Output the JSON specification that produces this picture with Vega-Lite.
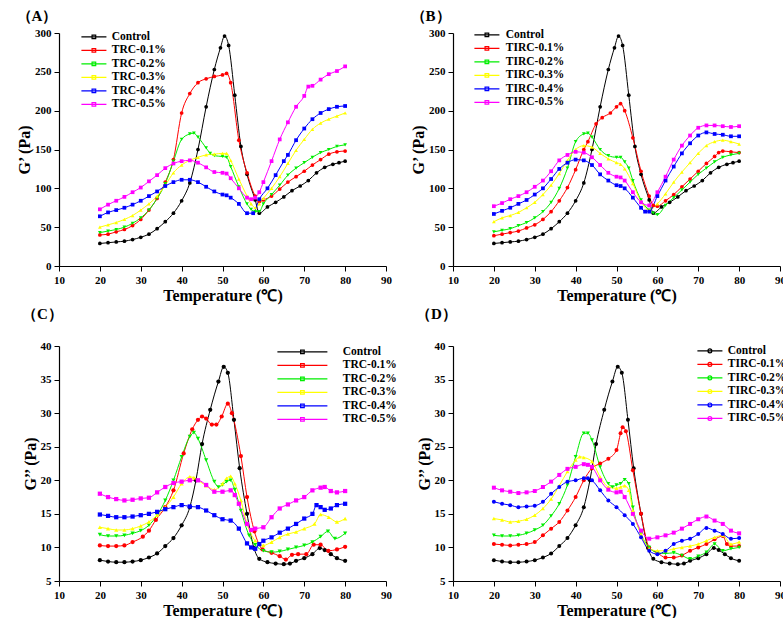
{
"$schema":"https://vega.github.io/schema/vega-lite/v6.json",
"background":"white",
"padding":{"left":16,"top":9,"right":0,"bottom":0},
"config":{
"font":"Liberation Serif",
"view":{"stroke":null},
"axis":{"labelFont":"Liberation Serif","labelFontWeight":"bold","labelFontSize":11,"labelColor":"#000","titleFont":"Liberation Serif","titleFontWeight":"bold","titleFontSize":16,"titleColor":"#000","domainColor":"#000","tickColor":"#000","tickSize":5,"labelPadding":3,"titlePadding":2,"grid":false,"domainWidth":1.2,"labelFlush":false,"labelOverlap":false},
"legend":{"labelFont":"Liberation Serif","labelFontWeight":"bold","labelFontSize":11.5,"labelColor":"#000","rowPadding":0,"symbolSize":121,"symbolStrokeWidth":1.2,"orient":"none","padding":0,"labelLimit":200,"symbolOpacity":1},
"title":{"font":"Liberation Serif","fontWeight":"bold","fontSize":15,"color":"#000","anchor":"start"}
},
"datasets":{
"gp":[
{"s":"Control","t":20,"v":29},{"s":"Control","t":22,"v":30},{"s":"Control","t":24,"v":31},{"s":"Control","t":26,"v":32},{"s":"Control","t":28,"v":34},{"s":"Control","t":30,"v":37},{"s":"Control","t":32,"v":41},{"s":"Control","t":34,"v":48},{"s":"Control","t":36,"v":57},{"s":"Control","t":38,"v":68},{"s":"Control","t":40,"v":84},{"s":"Control","t":42,"v":107},{"s":"Control","t":44,"v":150},{"s":"Control","t":46,"v":205},{"s":"Control","t":48,"v":253},{"s":"Control","t":49.5,"v":281},{"s":"Control","t":50.5,"v":296},{"s":"Control","t":51.5,"v":284},{"s":"Control","t":53,"v":220},{"s":"Control","t":54.5,"v":154},{"s":"Control","t":56,"v":118},{"s":"Control","t":58,"v":85},{"s":"Control","t":59,"v":68},{"s":"Control","t":61,"v":76},{"s":"Control","t":63,"v":82},{"s":"Control","t":65,"v":89},{"s":"Control","t":67,"v":97},{"s":"Control","t":69,"v":103},{"s":"Control","t":71,"v":110},{"s":"Control","t":73,"v":120},{"s":"Control","t":75,"v":127},{"s":"Control","t":77,"v":131},{"s":"Control","t":78.5,"v":133},{"s":"Control","t":80,"v":135},
{"s":"TRC-0.1%","t":20,"v":40},{"s":"TRC-0.1%","t":22,"v":41},{"s":"TRC-0.1%","t":24,"v":44},{"s":"TRC-0.1%","t":26,"v":47},{"s":"TRC-0.1%","t":28,"v":52},{"s":"TRC-0.1%","t":30,"v":60},{"s":"TRC-0.1%","t":32,"v":72},{"s":"TRC-0.1%","t":34,"v":87},{"s":"TRC-0.1%","t":36,"v":108},{"s":"TRC-0.1%","t":38,"v":137},{"s":"TRC-0.1%","t":40,"v":197},{"s":"TRC-0.1%","t":42,"v":222},{"s":"TRC-0.1%","t":44,"v":236},{"s":"TRC-0.1%","t":46,"v":241},{"s":"TRC-0.1%","t":48,"v":244},{"s":"TRC-0.1%","t":50,"v":246},{"s":"TRC-0.1%","t":51,"v":248},{"s":"TRC-0.1%","t":52,"v":236},{"s":"TRC-0.1%","t":54,"v":162},{"s":"TRC-0.1%","t":56,"v":120},{"s":"TRC-0.1%","t":58,"v":90},{"s":"TRC-0.1%","t":59,"v":83},{"s":"TRC-0.1%","t":60,"v":85},{"s":"TRC-0.1%","t":62,"v":90},{"s":"TRC-0.1%","t":64,"v":99},{"s":"TRC-0.1%","t":66,"v":108},{"s":"TRC-0.1%","t":68,"v":115},{"s":"TRC-0.1%","t":70,"v":122},{"s":"TRC-0.1%","t":72,"v":130},{"s":"TRC-0.1%","t":74,"v":137},{"s":"TRC-0.1%","t":76,"v":144},{"s":"TRC-0.1%","t":78,"v":147},{"s":"TRC-0.1%","t":80,"v":148},
{"s":"TRC-0.2%","t":20,"v":43},{"s":"TRC-0.2%","t":22,"v":45},{"s":"TRC-0.2%","t":24,"v":47},{"s":"TRC-0.2%","t":26,"v":50},{"s":"TRC-0.2%","t":28,"v":55},{"s":"TRC-0.2%","t":30,"v":62},{"s":"TRC-0.2%","t":32,"v":72},{"s":"TRC-0.2%","t":34,"v":87},{"s":"TRC-0.2%","t":36,"v":106},{"s":"TRC-0.2%","t":38,"v":135},{"s":"TRC-0.2%","t":40,"v":163},{"s":"TRC-0.2%","t":42,"v":170},{"s":"TRC-0.2%","t":43,"v":171},{"s":"TRC-0.2%","t":44,"v":166},{"s":"TRC-0.2%","t":46,"v":152},{"s":"TRC-0.2%","t":47,"v":145},{"s":"TRC-0.2%","t":48,"v":142},{"s":"TRC-0.2%","t":50,"v":141},{"s":"TRC-0.2%","t":51,"v":140},{"s":"TRC-0.2%","t":52,"v":128},{"s":"TRC-0.2%","t":54,"v":102},{"s":"TRC-0.2%","t":56,"v":80},{"s":"TRC-0.2%","t":57,"v":73},{"s":"TRC-0.2%","t":58,"v":70},{"s":"TRC-0.2%","t":59,"v":70},{"s":"TRC-0.2%","t":60,"v":80},{"s":"TRC-0.2%","t":62,"v":92},{"s":"TRC-0.2%","t":64,"v":104},{"s":"TRC-0.2%","t":66,"v":117},{"s":"TRC-0.2%","t":68,"v":126},{"s":"TRC-0.2%","t":70,"v":133},{"s":"TRC-0.2%","t":72,"v":140},{"s":"TRC-0.2%","t":74,"v":146},{"s":"TRC-0.2%","t":76,"v":150},{"s":"TRC-0.2%","t":78,"v":154},{"s":"TRC-0.2%","t":80,"v":156},
{"s":"TRC-0.3%","t":20,"v":50},{"s":"TRC-0.3%","t":22,"v":53},{"s":"TRC-0.3%","t":24,"v":56},{"s":"TRC-0.3%","t":26,"v":60},{"s":"TRC-0.3%","t":28,"v":65},{"s":"TRC-0.3%","t":30,"v":72},{"s":"TRC-0.3%","t":32,"v":80},{"s":"TRC-0.3%","t":34,"v":90},{"s":"TRC-0.3%","t":36,"v":104},{"s":"TRC-0.3%","t":38,"v":120},{"s":"TRC-0.3%","t":40,"v":130},{"s":"TRC-0.3%","t":42,"v":136},{"s":"TRC-0.3%","t":44,"v":140},{"s":"TRC-0.3%","t":46,"v":143},{"s":"TRC-0.3%","t":48,"v":144},{"s":"TRC-0.3%","t":50,"v":145},{"s":"TRC-0.3%","t":51,"v":145},{"s":"TRC-0.3%","t":52,"v":136},{"s":"TRC-0.3%","t":54,"v":112},{"s":"TRC-0.3%","t":56,"v":90},{"s":"TRC-0.3%","t":57,"v":80},{"s":"TRC-0.3%","t":58,"v":75},{"s":"TRC-0.3%","t":59,"v":80},{"s":"TRC-0.3%","t":60,"v":87},{"s":"TRC-0.3%","t":62,"v":100},{"s":"TRC-0.3%","t":64,"v":115},{"s":"TRC-0.3%","t":66,"v":132},{"s":"TRC-0.3%","t":68,"v":149},{"s":"TRC-0.3%","t":70,"v":163},{"s":"TRC-0.3%","t":72,"v":176},{"s":"TRC-0.3%","t":74,"v":184},{"s":"TRC-0.3%","t":76,"v":189},{"s":"TRC-0.3%","t":78,"v":193},{"s":"TRC-0.3%","t":80,"v":197},
{"s":"TRC-0.4%","t":20,"v":64},{"s":"TRC-0.4%","t":22,"v":69},{"s":"TRC-0.4%","t":24,"v":72},{"s":"TRC-0.4%","t":26,"v":75},{"s":"TRC-0.4%","t":28,"v":79},{"s":"TRC-0.4%","t":30,"v":84},{"s":"TRC-0.4%","t":32,"v":90},{"s":"TRC-0.4%","t":34,"v":96},{"s":"TRC-0.4%","t":36,"v":103},{"s":"TRC-0.4%","t":38,"v":108},{"s":"TRC-0.4%","t":40,"v":111},{"s":"TRC-0.4%","t":42,"v":111},{"s":"TRC-0.4%","t":44,"v":108},{"s":"TRC-0.4%","t":46,"v":102},{"s":"TRC-0.4%","t":48,"v":96},{"s":"TRC-0.4%","t":50,"v":92},{"s":"TRC-0.4%","t":51,"v":91},{"s":"TRC-0.4%","t":52,"v":88},{"s":"TRC-0.4%","t":54,"v":80},{"s":"TRC-0.4%","t":56,"v":68},{"s":"TRC-0.4%","t":57.5,"v":68},{"s":"TRC-0.4%","t":59,"v":86},{"s":"TRC-0.4%","t":61,"v":100},{"s":"TRC-0.4%","t":63,"v":117},{"s":"TRC-0.4%","t":65,"v":135},{"s":"TRC-0.4%","t":66,"v":143},{"s":"TRC-0.4%","t":68,"v":162},{"s":"TRC-0.4%","t":70,"v":177},{"s":"TRC-0.4%","t":72,"v":189},{"s":"TRC-0.4%","t":74,"v":197},{"s":"TRC-0.4%","t":76,"v":202},{"s":"TRC-0.4%","t":78,"v":205},{"s":"TRC-0.4%","t":80,"v":206},
{"s":"TRC-0.5%","t":20,"v":73},{"s":"TRC-0.5%","t":22,"v":79},{"s":"TRC-0.5%","t":24,"v":84},{"s":"TRC-0.5%","t":26,"v":89},{"s":"TRC-0.5%","t":28,"v":95},{"s":"TRC-0.5%","t":30,"v":101},{"s":"TRC-0.5%","t":32,"v":109},{"s":"TRC-0.5%","t":34,"v":117},{"s":"TRC-0.5%","t":36,"v":126},{"s":"TRC-0.5%","t":38,"v":132},{"s":"TRC-0.5%","t":40,"v":135},{"s":"TRC-0.5%","t":42,"v":136},{"s":"TRC-0.5%","t":44,"v":133},{"s":"TRC-0.5%","t":46,"v":127},{"s":"TRC-0.5%","t":48,"v":121},{"s":"TRC-0.5%","t":50,"v":120},{"s":"TRC-0.5%","t":51,"v":119},{"s":"TRC-0.5%","t":52,"v":113},{"s":"TRC-0.5%","t":54,"v":100},{"s":"TRC-0.5%","t":56,"v":88},{"s":"TRC-0.5%","t":57,"v":86},{"s":"TRC-0.5%","t":58,"v":88},{"s":"TRC-0.5%","t":59,"v":95},{"s":"TRC-0.5%","t":60,"v":108},{"s":"TRC-0.5%","t":62,"v":135},{"s":"TRC-0.5%","t":64,"v":163},{"s":"TRC-0.5%","t":66,"v":185},{"s":"TRC-0.5%","t":68,"v":205},{"s":"TRC-0.5%","t":70,"v":219},{"s":"TRC-0.5%","t":71,"v":231},{"s":"TRC-0.5%","t":72,"v":232},{"s":"TRC-0.5%","t":74,"v":240},{"s":"TRC-0.5%","t":76,"v":247},{"s":"TRC-0.5%","t":78,"v":251},{"s":"TRC-0.5%","t":80,"v":257},
{"s":"TIRC-0.1%","t":20,"v":39},{"s":"TIRC-0.1%","t":22,"v":41},{"s":"TIRC-0.1%","t":24,"v":43},{"s":"TIRC-0.1%","t":26,"v":45},{"s":"TIRC-0.1%","t":28,"v":49},{"s":"TIRC-0.1%","t":30,"v":53},{"s":"TIRC-0.1%","t":32,"v":60},{"s":"TIRC-0.1%","t":34,"v":70},{"s":"TIRC-0.1%","t":36,"v":84},{"s":"TIRC-0.1%","t":38,"v":101},{"s":"TIRC-0.1%","t":40,"v":124},{"s":"TIRC-0.1%","t":42,"v":150},{"s":"TIRC-0.1%","t":43,"v":160},{"s":"TIRC-0.1%","t":45,"v":183},{"s":"TIRC-0.1%","t":46.5,"v":191},{"s":"TIRC-0.1%","t":48.5,"v":197},{"s":"TIRC-0.1%","t":50,"v":205},{"s":"TIRC-0.1%","t":51,"v":209},{"s":"TIRC-0.1%","t":52,"v":200},{"s":"TIRC-0.1%","t":54,"v":165},{"s":"TIRC-0.1%","t":56,"v":122},{"s":"TIRC-0.1%","t":58,"v":90},{"s":"TIRC-0.1%","t":59,"v":78},{"s":"TIRC-0.1%","t":60,"v":77},{"s":"TIRC-0.1%","t":62,"v":84},{"s":"TIRC-0.1%","t":64,"v":92},{"s":"TIRC-0.1%","t":66,"v":102},{"s":"TIRC-0.1%","t":68,"v":112},{"s":"TIRC-0.1%","t":70,"v":122},{"s":"TIRC-0.1%","t":72,"v":132},{"s":"TIRC-0.1%","t":74,"v":141},{"s":"TIRC-0.1%","t":75,"v":146},{"s":"TIRC-0.1%","t":76,"v":148},{"s":"TIRC-0.1%","t":78,"v":147},{"s":"TIRC-0.1%","t":80,"v":146},
{"s":"TIRC-0.2%","t":20,"v":44},{"s":"TIRC-0.2%","t":22,"v":46},{"s":"TIRC-0.2%","t":24,"v":48},{"s":"TIRC-0.2%","t":26,"v":52},{"s":"TIRC-0.2%","t":28,"v":56},{"s":"TIRC-0.2%","t":30,"v":62},{"s":"TIRC-0.2%","t":32,"v":70},{"s":"TIRC-0.2%","t":34,"v":82},{"s":"TIRC-0.2%","t":36,"v":100},{"s":"TIRC-0.2%","t":38,"v":126},{"s":"TIRC-0.2%","t":40,"v":160},{"s":"TIRC-0.2%","t":42,"v":170},{"s":"TIRC-0.2%","t":43,"v":171},{"s":"TIRC-0.2%","t":44,"v":166},{"s":"TIRC-0.2%","t":46,"v":150},{"s":"TIRC-0.2%","t":48,"v":142},{"s":"TIRC-0.2%","t":50,"v":140},{"s":"TIRC-0.2%","t":51,"v":140},{"s":"TIRC-0.2%","t":52,"v":134},{"s":"TIRC-0.2%","t":53,"v":126},{"s":"TIRC-0.2%","t":54,"v":110},{"s":"TIRC-0.2%","t":56,"v":85},{"s":"TIRC-0.2%","t":58,"v":72},{"s":"TIRC-0.2%","t":59,"v":68},{"s":"TIRC-0.2%","t":60,"v":66},{"s":"TIRC-0.2%","t":62,"v":78},{"s":"TIRC-0.2%","t":64,"v":88},{"s":"TIRC-0.2%","t":66,"v":98},{"s":"TIRC-0.2%","t":68,"v":108},{"s":"TIRC-0.2%","t":70,"v":118},{"s":"TIRC-0.2%","t":72,"v":126},{"s":"TIRC-0.2%","t":74,"v":134},{"s":"TIRC-0.2%","t":76,"v":140},{"s":"TIRC-0.2%","t":78,"v":143},{"s":"TIRC-0.2%","t":80,"v":145},
{"s":"TIRC-0.3%","t":20,"v":57},{"s":"TIRC-0.3%","t":22,"v":62},{"s":"TIRC-0.3%","t":24,"v":65},{"s":"TIRC-0.3%","t":26,"v":69},{"s":"TIRC-0.3%","t":28,"v":75},{"s":"TIRC-0.3%","t":30,"v":82},{"s":"TIRC-0.3%","t":32,"v":92},{"s":"TIRC-0.3%","t":34,"v":104},{"s":"TIRC-0.3%","t":36,"v":119},{"s":"TIRC-0.3%","t":38,"v":136},{"s":"TIRC-0.3%","t":40,"v":150},{"s":"TIRC-0.3%","t":42,"v":155},{"s":"TIRC-0.3%","t":44,"v":153},{"s":"TIRC-0.3%","t":46,"v":145},{"s":"TIRC-0.3%","t":48,"v":138},{"s":"TIRC-0.3%","t":50,"v":133},{"s":"TIRC-0.3%","t":51,"v":131},{"s":"TIRC-0.3%","t":52,"v":125},{"s":"TIRC-0.3%","t":54,"v":106},{"s":"TIRC-0.3%","t":56,"v":83},{"s":"TIRC-0.3%","t":58,"v":72},{"s":"TIRC-0.3%","t":60,"v":80},{"s":"TIRC-0.3%","t":62,"v":93},{"s":"TIRC-0.3%","t":64,"v":108},{"s":"TIRC-0.3%","t":66,"v":121},{"s":"TIRC-0.3%","t":68,"v":133},{"s":"TIRC-0.3%","t":70,"v":145},{"s":"TIRC-0.3%","t":72,"v":155},{"s":"TIRC-0.3%","t":74,"v":160},{"s":"TIRC-0.3%","t":76,"v":162},{"s":"TIRC-0.3%","t":78,"v":160},{"s":"TIRC-0.3%","t":80,"v":157},
{"s":"TIRC-0.4%","t":20,"v":67},{"s":"TIRC-0.4%","t":22,"v":71},{"s":"TIRC-0.4%","t":24,"v":75},{"s":"TIRC-0.4%","t":26,"v":80},{"s":"TIRC-0.4%","t":28,"v":85},{"s":"TIRC-0.4%","t":30,"v":92},{"s":"TIRC-0.4%","t":32,"v":100},{"s":"TIRC-0.4%","t":34,"v":112},{"s":"TIRC-0.4%","t":36,"v":125},{"s":"TIRC-0.4%","t":38,"v":133},{"s":"TIRC-0.4%","t":40,"v":137},{"s":"TIRC-0.4%","t":42,"v":136},{"s":"TIRC-0.4%","t":44,"v":130},{"s":"TIRC-0.4%","t":46,"v":118},{"s":"TIRC-0.4%","t":48,"v":110},{"s":"TIRC-0.4%","t":50,"v":104},{"s":"TIRC-0.4%","t":51,"v":103},{"s":"TIRC-0.4%","t":52,"v":100},{"s":"TIRC-0.4%","t":54,"v":88},{"s":"TIRC-0.4%","t":56,"v":75},{"s":"TIRC-0.4%","t":57,"v":70},{"s":"TIRC-0.4%","t":58,"v":70},{"s":"TIRC-0.4%","t":60,"v":90},{"s":"TIRC-0.4%","t":62,"v":110},{"s":"TIRC-0.4%","t":64,"v":128},{"s":"TIRC-0.4%","t":66,"v":145},{"s":"TIRC-0.4%","t":68,"v":158},{"s":"TIRC-0.4%","t":70,"v":168},{"s":"TIRC-0.4%","t":72,"v":172},{"s":"TIRC-0.4%","t":74,"v":170},{"s":"TIRC-0.4%","t":76,"v":169},{"s":"TIRC-0.4%","t":78,"v":167},{"s":"TIRC-0.4%","t":80,"v":167},
{"s":"TIRC-0.5%","t":20,"v":77},{"s":"TIRC-0.5%","t":22,"v":81},{"s":"TIRC-0.5%","t":24,"v":86},{"s":"TIRC-0.5%","t":26,"v":90},{"s":"TIRC-0.5%","t":28,"v":95},{"s":"TIRC-0.5%","t":30,"v":102},{"s":"TIRC-0.5%","t":32,"v":110},{"s":"TIRC-0.5%","t":34,"v":122},{"s":"TIRC-0.5%","t":36,"v":136},{"s":"TIRC-0.5%","t":38,"v":143},{"s":"TIRC-0.5%","t":40,"v":147},{"s":"TIRC-0.5%","t":42,"v":146},{"s":"TIRC-0.5%","t":44,"v":140},{"s":"TIRC-0.5%","t":46,"v":130},{"s":"TIRC-0.5%","t":48,"v":120},{"s":"TIRC-0.5%","t":50,"v":115},{"s":"TIRC-0.5%","t":51,"v":114},{"s":"TIRC-0.5%","t":52,"v":110},{"s":"TIRC-0.5%","t":54,"v":95},{"s":"TIRC-0.5%","t":56,"v":82},{"s":"TIRC-0.5%","t":58,"v":78},{"s":"TIRC-0.5%","t":60,"v":95},{"s":"TIRC-0.5%","t":62,"v":115},{"s":"TIRC-0.5%","t":64,"v":137},{"s":"TIRC-0.5%","t":66,"v":155},{"s":"TIRC-0.5%","t":68,"v":168},{"s":"TIRC-0.5%","t":70,"v":178},{"s":"TIRC-0.5%","t":72,"v":181},{"s":"TIRC-0.5%","t":74,"v":181},{"s":"TIRC-0.5%","t":76,"v":180},{"s":"TIRC-0.5%","t":78,"v":179},{"s":"TIRC-0.5%","t":80,"v":180}
],
"gpp":[
{"s":"Control","t":20,"v":8.1},{"s":"Control","t":22,"v":7.9},{"s":"Control","t":24,"v":7.8},{"s":"Control","t":26,"v":7.8},{"s":"Control","t":28,"v":7.9},{"s":"Control","t":30,"v":8.1},{"s":"Control","t":32,"v":8.5},{"s":"Control","t":34,"v":9.1},{"s":"Control","t":36,"v":10.2},{"s":"Control","t":38,"v":11.4},{"s":"Control","t":40,"v":13.3},{"s":"Control","t":42,"v":16},{"s":"Control","t":43.5,"v":20},{"s":"Control","t":45,"v":25.4},{"s":"Control","t":47,"v":30.5},{"s":"Control","t":49,"v":34.7},{"s":"Control","t":50.3,"v":36.9},{"s":"Control","t":51.3,"v":36},{"s":"Control","t":52.8,"v":29},{"s":"Control","t":54.2,"v":21.8},{"s":"Control","t":56,"v":15},{"s":"Control","t":57.7,"v":9.9},{"s":"Control","t":59,"v":8.3},{"s":"Control","t":61,"v":7.8},{"s":"Control","t":63,"v":7.6},{"s":"Control","t":65,"v":7.5},{"s":"Control","t":66.5,"v":7.6},{"s":"Control","t":68,"v":8},{"s":"Control","t":70,"v":8.4},{"s":"Control","t":72,"v":9},{"s":"Control","t":73.8,"v":9.9},{"s":"Control","t":75,"v":9.6},{"s":"Control","t":76.5,"v":9},{"s":"Control","t":78,"v":8.4},{"s":"Control","t":80,"v":8},
{"s":"TRC-0.1%","t":20,"v":10.3},{"s":"TRC-0.1%","t":22,"v":10.2},{"s":"TRC-0.1%","t":24,"v":10.2},{"s":"TRC-0.1%","t":26,"v":10.3},{"s":"TRC-0.1%","t":28,"v":10.8},{"s":"TRC-0.1%","t":30.5,"v":11.6},{"s":"TRC-0.1%","t":32,"v":12.5},{"s":"TRC-0.1%","t":33.7,"v":14.1},{"s":"TRC-0.1%","t":36,"v":16},{"s":"TRC-0.1%","t":38,"v":18.5},{"s":"TRC-0.1%","t":40.5,"v":24},{"s":"TRC-0.1%","t":42.6,"v":27.6},{"s":"TRC-0.1%","t":44,"v":29},{"s":"TRC-0.1%","t":45,"v":29.5},{"s":"TRC-0.1%","t":46,"v":29.2},{"s":"TRC-0.1%","t":47.4,"v":28.3},{"s":"TRC-0.1%","t":48.5,"v":28.3},{"s":"TRC-0.1%","t":49.8,"v":29.5},{"s":"TRC-0.1%","t":51.3,"v":31.4},{"s":"TRC-0.1%","t":52.3,"v":30},{"s":"TRC-0.1%","t":54.5,"v":23.6},{"s":"TRC-0.1%","t":56,"v":17.5},{"s":"TRC-0.1%","t":57.8,"v":12.4},{"s":"TRC-0.1%","t":59.8,"v":9.7},{"s":"TRC-0.1%","t":62,"v":9.2},{"s":"TRC-0.1%","t":64,"v":8.7},{"s":"TRC-0.1%","t":65.5,"v":8.2},{"s":"TRC-0.1%","t":67,"v":8.9},{"s":"TRC-0.1%","t":68.5,"v":9},{"s":"TRC-0.1%","t":70.5,"v":9},{"s":"TRC-0.1%","t":72.3,"v":10.4},{"s":"TRC-0.1%","t":74,"v":10.4},{"s":"TRC-0.1%","t":75.9,"v":9.5},{"s":"TRC-0.1%","t":78,"v":9.7},{"s":"TRC-0.1%","t":80,"v":10.1},
{"s":"TRC-0.2%","t":20,"v":11.9},{"s":"TRC-0.2%","t":22,"v":11.7},{"s":"TRC-0.2%","t":24,"v":11.7},{"s":"TRC-0.2%","t":26,"v":11.8},{"s":"TRC-0.2%","t":28,"v":12.1},{"s":"TRC-0.2%","t":30,"v":12.5},{"s":"TRC-0.2%","t":32,"v":13.3},{"s":"TRC-0.2%","t":34,"v":14.8},{"s":"TRC-0.2%","t":36,"v":17},{"s":"TRC-0.2%","t":38,"v":20},{"s":"TRC-0.2%","t":40,"v":23.5},{"s":"TRC-0.2%","t":42,"v":26.5},{"s":"TRC-0.2%","t":43,"v":27.1},{"s":"TRC-0.2%","t":44,"v":26.2},{"s":"TRC-0.2%","t":46,"v":23},{"s":"TRC-0.2%","t":48,"v":19.8},{"s":"TRC-0.2%","t":49,"v":19},{"s":"TRC-0.2%","t":50,"v":19.3},{"s":"TRC-0.2%","t":51,"v":19.8},{"s":"TRC-0.2%","t":52,"v":20},{"s":"TRC-0.2%","t":53,"v":18.6},{"s":"TRC-0.2%","t":54.5,"v":15.5},{"s":"TRC-0.2%","t":56.5,"v":11.8},{"s":"TRC-0.2%","t":58,"v":10.4},{"s":"TRC-0.2%","t":60,"v":9.5},{"s":"TRC-0.2%","t":62,"v":9.3},{"s":"TRC-0.2%","t":64,"v":9.4},{"s":"TRC-0.2%","t":66,"v":9.7},{"s":"TRC-0.2%","t":68,"v":10},{"s":"TRC-0.2%","t":70,"v":10.3},{"s":"TRC-0.2%","t":72,"v":10.8},{"s":"TRC-0.2%","t":74,"v":11.6},{"s":"TRC-0.2%","t":75.8,"v":12.4},{"s":"TRC-0.2%","t":77.5,"v":11.3},{"s":"TRC-0.2%","t":80,"v":12.1},
{"s":"TRC-0.3%","t":20,"v":13},{"s":"TRC-0.3%","t":22,"v":12.8},{"s":"TRC-0.3%","t":24,"v":12.6},{"s":"TRC-0.3%","t":26,"v":12.6},{"s":"TRC-0.3%","t":28,"v":12.8},{"s":"TRC-0.3%","t":30,"v":13.2},{"s":"TRC-0.3%","t":32,"v":13.8},{"s":"TRC-0.3%","t":34,"v":14.8},{"s":"TRC-0.3%","t":36,"v":16},{"s":"TRC-0.3%","t":38,"v":17.5},{"s":"TRC-0.3%","t":40,"v":19.5},{"s":"TRC-0.3%","t":42,"v":20.5},{"s":"TRC-0.3%","t":43,"v":20.4},{"s":"TRC-0.3%","t":44,"v":20},{"s":"TRC-0.3%","t":46,"v":19.2},{"s":"TRC-0.3%","t":48,"v":18.6},{"s":"TRC-0.3%","t":50,"v":19.5},{"s":"TRC-0.3%","t":51,"v":20.3},{"s":"TRC-0.3%","t":52,"v":20.6},{"s":"TRC-0.3%","t":53,"v":19.5},{"s":"TRC-0.3%","t":54.5,"v":17},{"s":"TRC-0.3%","t":56,"v":13.5},{"s":"TRC-0.3%","t":58,"v":11},{"s":"TRC-0.3%","t":60,"v":10.3},{"s":"TRC-0.3%","t":62,"v":10.8},{"s":"TRC-0.3%","t":64,"v":11.5},{"s":"TRC-0.3%","t":66,"v":12},{"s":"TRC-0.3%","t":68,"v":12.3},{"s":"TRC-0.3%","t":70,"v":12.8},{"s":"TRC-0.3%","t":72.5,"v":13.5},{"s":"TRC-0.3%","t":74,"v":14.9},{"s":"TRC-0.3%","t":76,"v":14.5},{"s":"TRC-0.3%","t":78,"v":13.8},{"s":"TRC-0.3%","t":80,"v":14.3},
{"s":"TRC-0.4%","t":20,"v":14.9},{"s":"TRC-0.4%","t":22,"v":14.7},{"s":"TRC-0.4%","t":24,"v":14.5},{"s":"TRC-0.4%","t":26,"v":14.5},{"s":"TRC-0.4%","t":28,"v":14.6},{"s":"TRC-0.4%","t":30,"v":14.8},{"s":"TRC-0.4%","t":32,"v":15},{"s":"TRC-0.4%","t":34,"v":15.3},{"s":"TRC-0.4%","t":36,"v":15.7},{"s":"TRC-0.4%","t":38,"v":16},{"s":"TRC-0.4%","t":40,"v":16.3},{"s":"TRC-0.4%","t":42,"v":16.1},{"s":"TRC-0.4%","t":44,"v":16},{"s":"TRC-0.4%","t":46,"v":15.5},{"s":"TRC-0.4%","t":48,"v":14.8},{"s":"TRC-0.4%","t":50,"v":14.2},{"s":"TRC-0.4%","t":52,"v":14},{"s":"TRC-0.4%","t":54,"v":12.8},{"s":"TRC-0.4%","t":56,"v":10.6},{"s":"TRC-0.4%","t":57,"v":10},{"s":"TRC-0.4%","t":58,"v":9.8},{"s":"TRC-0.4%","t":59,"v":10.5},{"s":"TRC-0.4%","t":60,"v":11},{"s":"TRC-0.4%","t":62,"v":11.5},{"s":"TRC-0.4%","t":64,"v":12.2},{"s":"TRC-0.4%","t":66,"v":12.8},{"s":"TRC-0.4%","t":68,"v":13.5},{"s":"TRC-0.4%","t":70,"v":14.3},{"s":"TRC-0.4%","t":72,"v":15},{"s":"TRC-0.4%","t":73,"v":16.3},{"s":"TRC-0.4%","t":74,"v":16},{"s":"TRC-0.4%","t":75,"v":15.6},{"s":"TRC-0.4%","t":76.5,"v":15.8},{"s":"TRC-0.4%","t":78,"v":16.3},{"s":"TRC-0.4%","t":80,"v":16.5},
{"s":"TRC-0.5%","t":20,"v":18},{"s":"TRC-0.5%","t":22,"v":17.5},{"s":"TRC-0.5%","t":24,"v":17.2},{"s":"TRC-0.5%","t":26,"v":17},{"s":"TRC-0.5%","t":28,"v":17.1},{"s":"TRC-0.5%","t":30,"v":17.3},{"s":"TRC-0.5%","t":32,"v":17.4},{"s":"TRC-0.5%","t":34,"v":18.2},{"s":"TRC-0.5%","t":36,"v":19},{"s":"TRC-0.5%","t":38,"v":19.6},{"s":"TRC-0.5%","t":40,"v":19.8},{"s":"TRC-0.5%","t":42,"v":20},{"s":"TRC-0.5%","t":44,"v":20},{"s":"TRC-0.5%","t":46,"v":19.3},{"s":"TRC-0.5%","t":48,"v":18.3},{"s":"TRC-0.5%","t":50,"v":18.3},{"s":"TRC-0.5%","t":52,"v":18.5},{"s":"TRC-0.5%","t":53,"v":17.8},{"s":"TRC-0.5%","t":54,"v":16.5},{"s":"TRC-0.5%","t":56,"v":13.5},{"s":"TRC-0.5%","t":57,"v":12.6},{"s":"TRC-0.5%","t":58,"v":12.8},{"s":"TRC-0.5%","t":60,"v":13},{"s":"TRC-0.5%","t":62,"v":14.5},{"s":"TRC-0.5%","t":64,"v":15.8},{"s":"TRC-0.5%","t":66,"v":16.4},{"s":"TRC-0.5%","t":68,"v":17},{"s":"TRC-0.5%","t":70,"v":17.5},{"s":"TRC-0.5%","t":72,"v":18.5},{"s":"TRC-0.5%","t":74,"v":18.9},{"s":"TRC-0.5%","t":75,"v":19},{"s":"TRC-0.5%","t":76.5,"v":18.4},{"s":"TRC-0.5%","t":78,"v":18.2},{"s":"TRC-0.5%","t":80,"v":18.4},
{"s":"TIRC-0.1%","t":20,"v":10.5},{"s":"TIRC-0.1%","t":22,"v":10.4},{"s":"TIRC-0.1%","t":24,"v":10.3},{"s":"TIRC-0.1%","t":26,"v":10.4},{"s":"TIRC-0.1%","t":28,"v":10.5},{"s":"TIRC-0.1%","t":30,"v":10.8},{"s":"TIRC-0.1%","t":32,"v":11.8},{"s":"TIRC-0.1%","t":34,"v":12.8},{"s":"TIRC-0.1%","t":36,"v":13.8},{"s":"TIRC-0.1%","t":38,"v":15.5},{"s":"TIRC-0.1%","t":40,"v":17.5},{"s":"TIRC-0.1%","t":42,"v":20},{"s":"TIRC-0.1%","t":44,"v":21.8},{"s":"TIRC-0.1%","t":46,"v":22.5},{"s":"TIRC-0.1%","t":48,"v":23.2},{"s":"TIRC-0.1%","t":50,"v":24.5},{"s":"TIRC-0.1%","t":51,"v":27},{"s":"TIRC-0.1%","t":51.5,"v":27.9},{"s":"TIRC-0.1%","t":52.3,"v":27.3},{"s":"TIRC-0.1%","t":54,"v":21.5},{"s":"TIRC-0.1%","t":56,"v":15},{"s":"TIRC-0.1%","t":58,"v":10},{"s":"TIRC-0.1%","t":60,"v":9.2},{"s":"TIRC-0.1%","t":62,"v":8.5},{"s":"TIRC-0.1%","t":64,"v":8.5},{"s":"TIRC-0.1%","t":66,"v":8.8},{"s":"TIRC-0.1%","t":68,"v":9.5},{"s":"TIRC-0.1%","t":70,"v":10},{"s":"TIRC-0.1%","t":72,"v":10.5},{"s":"TIRC-0.1%","t":74,"v":11.2},{"s":"TIRC-0.1%","t":76,"v":11.7},{"s":"TIRC-0.1%","t":77,"v":10.5},{"s":"TIRC-0.1%","t":78,"v":10.2},{"s":"TIRC-0.1%","t":80,"v":10.2},
{"s":"TIRC-0.2%","t":20,"v":11.8},{"s":"TIRC-0.2%","t":22,"v":11.7},{"s":"TIRC-0.2%","t":24,"v":11.7},{"s":"TIRC-0.2%","t":26,"v":11.8},{"s":"TIRC-0.2%","t":28,"v":12.1},{"s":"TIRC-0.2%","t":30,"v":12.6},{"s":"TIRC-0.2%","t":32,"v":13.3},{"s":"TIRC-0.2%","t":34,"v":14.7},{"s":"TIRC-0.2%","t":36,"v":16.5},{"s":"TIRC-0.2%","t":38,"v":19.3},{"s":"TIRC-0.2%","t":40,"v":23.5},{"s":"TIRC-0.2%","t":42,"v":27},{"s":"TIRC-0.2%","t":43,"v":27},{"s":"TIRC-0.2%","t":44,"v":26},{"s":"TIRC-0.2%","t":46,"v":22},{"s":"TIRC-0.2%","t":48,"v":19.5},{"s":"TIRC-0.2%","t":49,"v":19},{"s":"TIRC-0.2%","t":50,"v":19.3},{"s":"TIRC-0.2%","t":51,"v":19.5},{"s":"TIRC-0.2%","t":52,"v":20.1},{"s":"TIRC-0.2%","t":53,"v":19.5},{"s":"TIRC-0.2%","t":54,"v":16},{"s":"TIRC-0.2%","t":56,"v":12},{"s":"TIRC-0.2%","t":58,"v":10},{"s":"TIRC-0.2%","t":60,"v":9.2},{"s":"TIRC-0.2%","t":62,"v":9.1},{"s":"TIRC-0.2%","t":64,"v":9.2},{"s":"TIRC-0.2%","t":66,"v":8.8},{"s":"TIRC-0.2%","t":68,"v":8.3},{"s":"TIRC-0.2%","t":70,"v":8.7},{"s":"TIRC-0.2%","t":72,"v":9.3},{"s":"TIRC-0.2%","t":74,"v":10.5},{"s":"TIRC-0.2%","t":76,"v":9.5},{"s":"TIRC-0.2%","t":78,"v":9.8},{"s":"TIRC-0.2%","t":80,"v":10},
{"s":"TIRC-0.3%","t":20,"v":14.3},{"s":"TIRC-0.3%","t":22,"v":14.1},{"s":"TIRC-0.3%","t":24,"v":13.8},{"s":"TIRC-0.3%","t":26,"v":13.9},{"s":"TIRC-0.3%","t":28,"v":14.2},{"s":"TIRC-0.3%","t":30,"v":14.8},{"s":"TIRC-0.3%","t":32,"v":15.8},{"s":"TIRC-0.3%","t":34,"v":17.2},{"s":"TIRC-0.3%","t":36,"v":19.2},{"s":"TIRC-0.3%","t":38,"v":21.3},{"s":"TIRC-0.3%","t":40,"v":23},{"s":"TIRC-0.3%","t":41,"v":23.5},{"s":"TIRC-0.3%","t":42,"v":23.4},{"s":"TIRC-0.3%","t":44,"v":22.8},{"s":"TIRC-0.3%","t":46,"v":20.5},{"s":"TIRC-0.3%","t":48,"v":19},{"s":"TIRC-0.3%","t":50,"v":18.8},{"s":"TIRC-0.3%","t":51,"v":19},{"s":"TIRC-0.3%","t":52,"v":19.2},{"s":"TIRC-0.3%","t":53,"v":18.5},{"s":"TIRC-0.3%","t":54,"v":15.5},{"s":"TIRC-0.3%","t":56,"v":12},{"s":"TIRC-0.3%","t":58,"v":9.8},{"s":"TIRC-0.3%","t":60,"v":9.5},{"s":"TIRC-0.3%","t":62,"v":9.5},{"s":"TIRC-0.3%","t":64,"v":9.8},{"s":"TIRC-0.3%","t":66,"v":10},{"s":"TIRC-0.3%","t":68,"v":10.2},{"s":"TIRC-0.3%","t":70,"v":10.5},{"s":"TIRC-0.3%","t":72,"v":11},{"s":"TIRC-0.3%","t":74,"v":11.5},{"s":"TIRC-0.3%","t":76,"v":11.8},{"s":"TIRC-0.3%","t":78,"v":10.5},{"s":"TIRC-0.3%","t":80,"v":10.8},
{"s":"TIRC-0.4%","t":20,"v":16.8},{"s":"TIRC-0.4%","t":22,"v":16.5},{"s":"TIRC-0.4%","t":24,"v":16.3},{"s":"TIRC-0.4%","t":26,"v":16},{"s":"TIRC-0.4%","t":28,"v":16.1},{"s":"TIRC-0.4%","t":30,"v":16.2},{"s":"TIRC-0.4%","t":32,"v":16.8},{"s":"TIRC-0.4%","t":34,"v":18},{"s":"TIRC-0.4%","t":36,"v":19},{"s":"TIRC-0.4%","t":38,"v":19.8},{"s":"TIRC-0.4%","t":40,"v":20},{"s":"TIRC-0.4%","t":42,"v":20.3},{"s":"TIRC-0.4%","t":43,"v":20.3},{"s":"TIRC-0.4%","t":44,"v":20},{"s":"TIRC-0.4%","t":46,"v":18.5},{"s":"TIRC-0.4%","t":48,"v":17},{"s":"TIRC-0.4%","t":50,"v":16},{"s":"TIRC-0.4%","t":52,"v":14.8},{"s":"TIRC-0.4%","t":54,"v":13.5},{"s":"TIRC-0.4%","t":56,"v":11.5},{"s":"TIRC-0.4%","t":58,"v":9.5},{"s":"TIRC-0.4%","t":60,"v":9},{"s":"TIRC-0.4%","t":62,"v":9.5},{"s":"TIRC-0.4%","t":64,"v":10.5},{"s":"TIRC-0.4%","t":66,"v":11},{"s":"TIRC-0.4%","t":68,"v":11.3},{"s":"TIRC-0.4%","t":70,"v":12},{"s":"TIRC-0.4%","t":72,"v":12.9},{"s":"TIRC-0.4%","t":74,"v":12.5},{"s":"TIRC-0.4%","t":76,"v":12},{"s":"TIRC-0.4%","t":78,"v":11.3},{"s":"TIRC-0.4%","t":80,"v":11.4},
{"s":"TIRC-0.5%","t":20,"v":18.9},{"s":"TIRC-0.5%","t":22,"v":18.5},{"s":"TIRC-0.5%","t":24,"v":18.3},{"s":"TIRC-0.5%","t":26,"v":18.1},{"s":"TIRC-0.5%","t":28,"v":18.2},{"s":"TIRC-0.5%","t":30,"v":18.4},{"s":"TIRC-0.5%","t":32,"v":19},{"s":"TIRC-0.5%","t":34,"v":19.8},{"s":"TIRC-0.5%","t":36,"v":20.8},{"s":"TIRC-0.5%","t":38,"v":21.7},{"s":"TIRC-0.5%","t":40,"v":22},{"s":"TIRC-0.5%","t":42,"v":22.4},{"s":"TIRC-0.5%","t":43,"v":22.3},{"s":"TIRC-0.5%","t":44,"v":22},{"s":"TIRC-0.5%","t":46,"v":20},{"s":"TIRC-0.5%","t":48,"v":18.6},{"s":"TIRC-0.5%","t":50,"v":18.2},{"s":"TIRC-0.5%","t":51,"v":18.3},{"s":"TIRC-0.5%","t":52,"v":17.5},{"s":"TIRC-0.5%","t":54,"v":15},{"s":"TIRC-0.5%","t":56,"v":12.5},{"s":"TIRC-0.5%","t":58,"v":11.3},{"s":"TIRC-0.5%","t":60,"v":11.5},{"s":"TIRC-0.5%","t":62,"v":11.8},{"s":"TIRC-0.5%","t":64,"v":12.2},{"s":"TIRC-0.5%","t":66,"v":12.8},{"s":"TIRC-0.5%","t":68,"v":13.5},{"s":"TIRC-0.5%","t":70,"v":14.2},{"s":"TIRC-0.5%","t":72,"v":14.6},{"s":"TIRC-0.5%","t":74,"v":14},{"s":"TIRC-0.5%","t":76,"v":13.5},{"s":"TIRC-0.5%","t":78,"v":12.5},{"s":"TIRC-0.5%","t":80,"v":12.1}
]
},
"columns":2,
"spacing":{"row":80,"column":67},
"bounds":"flush",
"resolve":{"scale":{"color":"independent","shape":"independent","x":"independent","y":"independent"},"legend":{"color":"independent"}},
"concat":[
{
"width":327,"height":233,
"title":{"text":"（A）","offset":3},
"data":{"name":"gp"},
"transform":[{"filter":"datum.s==='Control'||test(/^TRC/,datum.s)"}],
"resolve":{"scale":{"color":"independent","shape":"independent"},"legend":{"color":"independent","shape":"independent"}},
"encoding":{
"x":{"field":"t","type":"quantitative","scale":{"domain":[10,90],"nice":false},"axis":{"values":[10,20,30,40,50,60,70,80,90],"title":"Temperature (℃)"}},
"y":{"field":"v","type":"quantitative","scale":{"domain":[0,300],"nice":false},"axis":{"values":[0,50,100,150,200,250,300],"title":"G’ (Pa)"}}
},
"layer":[
{"mark":{"type":"line","interpolate":"monotone","strokeWidth":1},"encoding":{"color":{"field":"s","type":"nominal","scale":{"domain":["Control","TRC-0.1%","TRC-0.2%","TRC-0.3%","TRC-0.4%","TRC-0.5%"],"range":["#000000","#ff0000","#00ee00","#ffff00","#0000ff","#ff00ff"]},
"legend":{"title":null,"legendX":21.4,"legendY":-2.6,"rowPadding":1.5,"labelOffset":18.4,"symbolType":"M-1,0H3.55M0.94,-0.33H1.6V0.33H0.94Z"}}}},
{"mark":{"type":"point","filled":true,"size":14,"opacity":1},"encoding":{"color":{"field":"s","type":"nominal","scale":{"domain":["Control","TRC-0.1%","TRC-0.2%","TRC-0.3%","TRC-0.4%","TRC-0.5%"],"range":["#000000","#ff0000","#00ee00","#ffff00","#0000ff","#ff00ff"]},"legend":null},"shape":{"field":"s","type":"nominal","scale":{"domain":["Control","TRC-0.1%","TRC-0.2%","TRC-0.3%","TRC-0.4%","TRC-0.5%"],"range":["circle","circle","triangle-down","triangle-up","square","square"]},"legend":null}}}
]
},
{
"width":327,"height":233,
"title":{"text":"（B）","offset":3},
"data":{"name":"gp"},
"transform":[{"filter":"datum.s==='Control'||test(/^TIRC/,datum.s)"}],
"resolve":{"scale":{"color":"independent","shape":"independent"},"legend":{"color":"independent","shape":"independent"}},
"encoding":{
"x":{"field":"t","type":"quantitative","scale":{"domain":[10,90],"nice":false},"axis":{"values":[10,20,30,40,50,60,70,80,90],"title":"Temperature (℃)"}},
"y":{"field":"v","type":"quantitative","scale":{"domain":[0,300],"nice":false},"axis":{"values":[0,50,100,150,200,250,300],"title":"G’ (Pa)"}}
},
"layer":[
{"mark":{"type":"line","interpolate":"monotone","strokeWidth":1},"encoding":{"color":{"field":"s","type":"nominal","scale":{"domain":["Control","TIRC-0.1%","TIRC-0.2%","TIRC-0.3%","TIRC-0.4%","TIRC-0.5%"],"range":["#000000","#ff0000","#00ee00","#ffff00","#0000ff","#ff00ff"]},
"legend":{"title":null,"legendX":20.4,"legendY":-4.6,"rowPadding":1.5,"labelOffset":19.4,"symbolType":"M-1,0H3.55M0.94,-0.33H1.6V0.33H0.94Z"}}}},
{"mark":{"type":"point","filled":true,"size":14,"opacity":1},"encoding":{"color":{"field":"s","type":"nominal","scale":{"domain":["Control","TIRC-0.1%","TIRC-0.2%","TIRC-0.3%","TIRC-0.4%","TIRC-0.5%"],"range":["#000000","#ff0000","#00ee00","#ffff00","#0000ff","#ff00ff"]},"legend":null},"shape":{"field":"s","type":"nominal","scale":{"domain":["Control","TIRC-0.1%","TIRC-0.2%","TIRC-0.3%","TIRC-0.4%","TIRC-0.5%"],"range":["circle","circle","triangle-down","triangle-up","square","square"]},"legend":null}}}
]
},
{
"width":327,"height":235,
"title":{"text":"（C）","offset":18},
"data":{"name":"gpp"},
"transform":[{"filter":"datum.s==='Control'||test(/^TRC/,datum.s)"}],
"resolve":{"scale":{"color":"independent","shape":"independent"},"legend":{"color":"independent","shape":"independent"}},
"encoding":{
"x":{"field":"t","type":"quantitative","scale":{"domain":[10,90],"nice":false},"axis":{"values":[10,20,30,40,50,60,70,80,90],"title":"Temperature (℃)"}},
"y":{"field":"v","type":"quantitative","scale":{"domain":[5,40],"nice":false,"zero":false},"axis":{"values":[5,10,15,20,25,30,35,40],"title":"G’’ (Pa)"}}
},
"layer":[
{"mark":{"type":"line","interpolate":"monotone","strokeWidth":1},"encoding":{"color":{"field":"s","type":"nominal","scale":{"domain":["Control","TRC-0.1%","TRC-0.2%","TRC-0.3%","TRC-0.4%","TRC-0.5%"],"range":["#000000","#ff0000","#00ee00","#ffff00","#0000ff","#ff00ff"]},
"legend":{"title":null,"legendX":217.4,"legendY":-0.6,"rowPadding":1.5,"labelOffset":53.4,"symbolType":"M-1,0H8.09M3.22,-0.33H3.88V0.33H3.22Z"}}}},
{"mark":{"type":"point","filled":true,"size":18,"opacity":1},"encoding":{"color":{"field":"s","type":"nominal","scale":{"domain":["Control","TRC-0.1%","TRC-0.2%","TRC-0.3%","TRC-0.4%","TRC-0.5%"],"range":["#000000","#ff0000","#00ee00","#ffff00","#0000ff","#ff00ff"]},"legend":null},"shape":{"field":"s","type":"nominal","scale":{"domain":["Control","TRC-0.1%","TRC-0.2%","TRC-0.3%","TRC-0.4%","TRC-0.5%"],"range":["circle","circle","triangle-down","triangle-up","square","square"]},"legend":null}}}
]
},
{
"width":327,"height":235,
"title":{"text":"（D）","offset":18},
"data":{"name":"gpp"},
"transform":[{"filter":"datum.s==='Control'||test(/^TIRC/,datum.s)"}],
"resolve":{"scale":{"color":"independent","shape":"independent"},"legend":{"color":"independent","shape":"independent"}},
"encoding":{
"x":{"field":"t","type":"quantitative","scale":{"domain":[10,90],"nice":false},"axis":{"values":[10,20,30,40,50,60,70,80,90],"title":"Temperature (℃)"}},
"y":{"field":"v","type":"quantitative","scale":{"domain":[5,40],"nice":false,"zero":false},"axis":{"values":[5,10,15,20,25,30,35,40],"title":"G’’ (Pa)"}}
},
"layer":[
{"mark":{"type":"line","interpolate":"monotone","strokeWidth":1},"encoding":{"color":{"field":"s","type":"nominal","scale":{"domain":["Control","TIRC-0.1%","TIRC-0.2%","TIRC-0.3%","TIRC-0.4%","TIRC-0.5%"],"range":["#000000","#ff0000","#00ee00","#ffff00","#0000ff","#ff00ff"]},
"legend":{"title":null,"legendX":243.4,"legendY":-1.6,"rowPadding":1.5,"labelOffset":18.4,"symbolType":"M-1,0H3.55M0.92,0A0.35,0.35 0 1,0 1.62,0A0.35,0.35 0 1,0 0.92,0Z"}}}},
{"mark":{"type":"point","filled":true,"size":16,"opacity":1},"encoding":{"color":{"field":"s","type":"nominal","scale":{"domain":["Control","TIRC-0.1%","TIRC-0.2%","TIRC-0.3%","TIRC-0.4%","TIRC-0.5%"],"range":["#000000","#ff0000","#00ee00","#ffff00","#0000ff","#ff00ff"]},"legend":null},"shape":{"field":"s","type":"nominal","scale":{"domain":["Control","TIRC-0.1%","TIRC-0.2%","TIRC-0.3%","TIRC-0.4%","TIRC-0.5%"],"range":["circle","circle","triangle-down","triangle-up","circle","square"]},"legend":null}}}
]
}
]
}
